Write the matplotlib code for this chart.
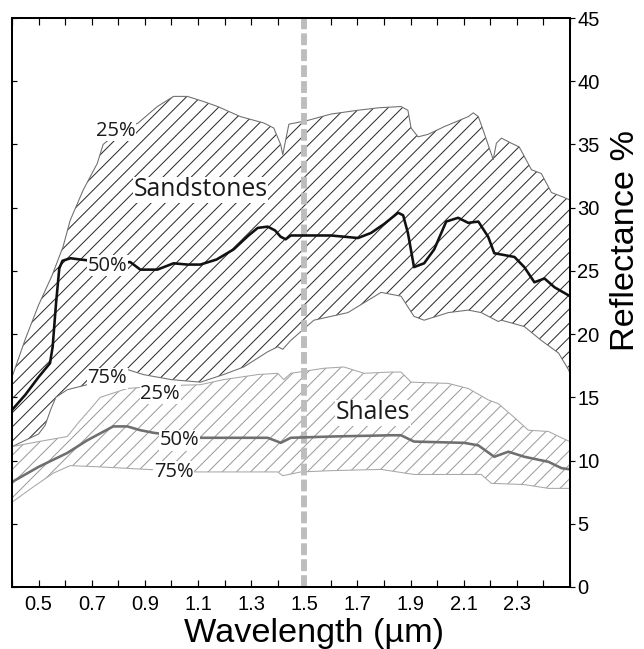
import numpy as np
import matplotlib
matplotlib.use("Agg")
import matplotlib.pyplot as plt
from matplotlib.ticker import MultipleLocator, FixedLocator

DPI = 85

# --- data (wavelength in um, reflectance in %) ---
sand_p25_x = [0.40, 0.45, 0.50, 0.55, 0.592, 0.619, 0.668, 0.721, 0.743, 0.80, 0.875, 0.947,
              1.008, 1.06, 1.12, 1.174, 1.26, 1.347, 1.385, 1.411, 1.419, 1.442, 1.513, 1.60,
              1.70, 1.78, 1.864, 1.89, 1.902, 1.928, 1.966, 2.026, 2.117, 2.136, 2.155, 2.177,
              2.211, 2.223, 2.242, 2.279, 2.309, 2.355, 2.392, 2.43, 2.479, 2.50]
sand_p25_y = [16.6, 19.6, 22.3, 24.6, 26.9, 29.0, 31.4, 33.5, 35.0, 36.0, 36.7, 38.0,
              38.8, 38.8, 38.4, 38.0, 37.2, 36.7, 36.3, 35.0, 34.2, 36.6, 36.9, 37.4,
              37.7, 37.9, 38.0, 37.7, 36.3, 35.6, 35.8, 36.4, 37.2, 37.5, 37.2, 35.9,
              33.8, 35.1, 35.5, 35.1, 34.8, 33.0, 32.7, 31.2, 30.8, 30.6]

sand_p50_x = [0.40, 0.45, 0.50, 0.543, 0.553, 0.566, 0.578, 0.59, 0.62, 0.657, 0.70, 0.80,
              0.845, 0.883, 0.947, 1.008, 1.06, 1.109, 1.17, 1.234, 1.29, 1.325, 1.362, 1.39,
              1.411, 1.43, 1.449, 1.50, 1.60, 1.702, 1.751, 1.80, 1.853, 1.872, 1.89, 1.913,
              1.951, 1.989, 2.034, 2.079, 2.117, 2.155, 2.192, 2.215, 2.291, 2.328, 2.366,
              2.404, 2.442, 2.50]
sand_p50_y = [14.0, 15.2, 16.6, 17.7, 19.0, 22.5, 25.2, 25.8, 26.0, 25.9, 25.8, 25.6,
              25.7, 25.1, 25.1, 25.6, 25.5, 25.5, 25.9, 26.7, 27.8, 28.4, 28.5, 28.2,
              27.7, 27.5, 27.8, 27.8, 27.8, 27.6, 28.0, 28.7, 29.6, 29.4, 28.0, 25.3,
              25.6, 26.7, 28.9, 29.2, 28.8, 28.9, 27.7, 26.4, 26.1, 25.3, 24.1,
              24.4, 23.7, 23.0]

sand_p75_x = [0.40, 0.45, 0.50, 0.525, 0.545, 0.565, 0.608, 0.683, 0.76, 0.834, 0.894, 1.0,
              1.109, 1.196, 1.272, 1.362, 1.40, 1.419, 1.449, 1.536, 1.664, 1.789, 1.864,
              1.913, 1.951, 2.042, 2.117, 2.166, 2.23, 2.242, 2.328, 2.392, 2.457, 2.494, 2.50]
sand_p75_y = [11.1, 11.6, 12.1, 12.8, 14.0, 15.0, 15.6, 16.0, 16.6, 17.2, 16.8, 16.4,
              16.2, 16.8, 17.4, 18.6, 19.0, 18.8, 19.5, 21.1, 21.7, 23.3, 23.0,
              21.4, 21.1, 21.7, 21.9, 21.7, 21.0, 21.1, 20.6, 19.5, 18.5, 17.2, 16.9]

shale_p25_x = [0.40, 0.50, 0.608, 0.65, 0.70, 0.732, 0.834, 0.95, 1.109, 1.196, 1.325, 1.40,
               1.423, 1.449, 1.574, 1.649, 1.725, 1.826, 1.864, 1.902, 2.042, 2.117, 2.192,
               2.23, 2.291, 2.343, 2.419, 2.468, 2.50]
shale_p25_y = [11.1, 11.5, 11.9, 13.0, 14.2, 15.0, 15.7, 15.9, 16.0, 16.4, 16.8, 16.9,
               16.4, 16.9, 17.3, 17.4, 16.9, 17.0, 17.0, 16.2, 16.1, 15.7, 14.8,
               14.5, 13.4, 12.4, 12.3, 11.8, 11.5]

shale_p50_x = [0.40, 0.50, 0.608, 0.683, 0.781, 0.834, 0.883, 0.932, 1.0, 1.109, 1.362, 1.40,
               1.411, 1.449, 1.60, 1.826, 1.864, 1.913, 2.102, 2.155, 2.215, 2.268, 2.328,
               2.419, 2.468, 2.50]
shale_p50_y = [8.3, 9.5, 10.6, 11.6, 12.7, 12.7, 12.4, 12.2, 12.0, 11.8, 11.8, 11.5,
               11.4, 11.8, 11.9, 12.0, 12.0, 11.5, 11.4, 11.2, 10.3, 10.7, 10.3,
               9.9, 9.4, 9.3]

shale_p75_x = [0.40, 0.479, 0.555, 0.619, 0.732, 0.909, 1.083, 1.40, 1.419, 1.487, 1.60,
               1.789, 1.913, 2.166, 2.204, 2.328, 2.419, 2.50]
shale_p75_y = [6.7, 7.9, 9.0, 9.6, 9.5, 9.3, 9.1, 9.1, 8.8, 9.1, 9.2,
               9.3, 8.9, 8.9, 8.2, 8.1, 7.8, 7.8]

x_labels = ["0.5", "0.7", "0.9", "1.1", "1.3", "1.5", "1.7", "1.9", "2.1", "2.3"]
y_labels = ["0", "5", "10", "15", "20", "25", "30", "35", "40", "45"]

# curve labels: (text, x, y, size)
notes = [
    ("25%", 0.789, 36.1, 17),
    ("Sandstones", 1.109, 31.4, 21),
    ("50%", 0.758, 25.4, 17),
    ("75%", 0.758, 16.5, 17),
    ("25%", 0.958, 15.3, 17),
    ("50%", 1.03, 11.6, 17),
    ("75%", 1.008, 9.1, 17),
    ("Shales", 1.758, 13.8, 21),
]

plt.rcParams["hatch.linewidth"] = 0.85

fig = plt.figure(figsize=(644 / DPI, 649 / DPI), dpi=DPI)
ax = fig.add_axes([12 / 644, 62 / 649, 558 / 644, 569 / 649])

# hatched bands (polygon = upper curve + reversed lower curve)
sx = sand_p25_x + sand_p75_x[::-1]
sy = sand_p25_y + sand_p75_y[::-1]
ax.fill(sx, sy, facecolor="none", edgecolor="#2a2a2a", linewidth=0, hatch="//", zorder=2)
hx = shale_p25_x + shale_p75_x[::-1]
hy = shale_p25_y + shale_p75_y[::-1]
ax.fill(hx, hy, facecolor="none", edgecolor="#9a9a9a", linewidth=0, hatch="//", zorder=1)

# band outlines
ax.plot(sand_p25_x, sand_p25_y, color="#6e6e6e", lw=0.9, zorder=3)
ax.plot(sand_p75_x, sand_p75_y, color="#6e6e6e", lw=0.9, zorder=3)
ax.plot(shale_p25_x, shale_p25_y, color="#a8a8a8", lw=0.9, zorder=3)
ax.plot(shale_p75_x, shale_p75_y, color="#a8a8a8", lw=0.9, zorder=3)

# 1.5 um marker
ax.axvline(1.5, color="#bdbdbd", lw=5.0, linestyle=(0, (2.0, 0.7)), zorder=4)

# medians
ax.plot(shale_p50_x, shale_p50_y, color="#6f6f6f", lw=2.2, zorder=5)
ax.plot(sand_p50_x, sand_p50_y, color="#111111", lw=2.2, zorder=5)

for txt, tx, ty, sz in notes:
    ax.text(tx, ty, txt, fontsize=sz, family="Open Sans", color="#1a1a1a",
            ha="center", va="center", zorder=6,
            bbox=dict(facecolor="white", edgecolor="none", pad=0.5))

ax.set_xlim(0.4, 2.5)
ax.set_ylim(0, 45)

ax.xaxis.set_major_locator(FixedLocator([float(s) for s in x_labels]))
ax.set_xticklabels(x_labels, family="Liberation Sans", fontsize=17)
ax.xaxis.set_minor_locator(MultipleLocator(0.1))
ax.tick_params(axis="x", which="both", direction="in", top=True, bottom=True,
               length=6, width=1.0, pad=7)

ax.yaxis.set_major_locator(MultipleLocator(5))
ax.tick_params(axis="y", direction="in", left=True, right=False, labelleft=False,
               length=4, width=1.0)

ax2 = ax.twinx()
ax2.set_ylim(0, 45)
ax2.yaxis.set_major_locator(FixedLocator([float(s) for s in y_labels]))
ax2.set_yticklabels(y_labels, family="Liberation Sans", fontsize=17)
ax2.tick_params(axis="y", direction="out", length=4, width=1.0, pad=2)

for a in (ax, ax2):
    for sp in a.spines.values():
        sp.set_linewidth(1.7)

fig.text(314 / 644, 1 - 642 / 649, "Wavelength (\u00b5m)", family="Liberation Sans",
         fontsize=29, ha="center", va="baseline")
fig.text(626 / 644, 1 - 240 / 649, "Reflectance %", family="Liberation Sans",
         fontsize=29, rotation=90, ha="center", va="center")

fig.savefig("out.png", dpi=DPI)
